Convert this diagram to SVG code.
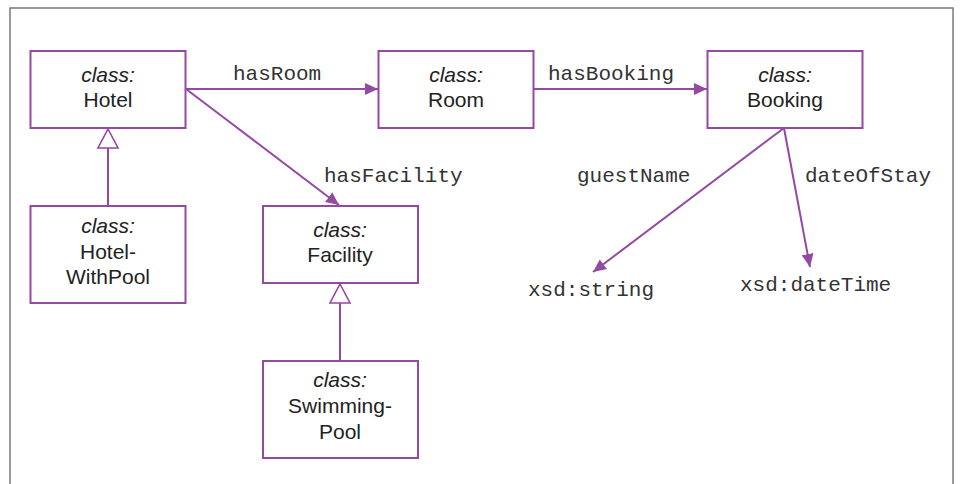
<svg xmlns="http://www.w3.org/2000/svg" width="960" height="484" viewBox="0 0 960 484">
<style>
.box{fill:#fff;stroke:#9449a2;stroke-width:2}
.edge{fill:none;stroke:#9449a2;stroke-width:2}
.gen{fill:#fff;stroke:#9449a2;stroke-width:1.6}
.cls{font-family:"Liberation Sans",Arial,sans-serif;font-size:21px;fill:#222;text-anchor:middle}
.it{font-style:italic}
.mono{font-family:"Liberation Mono","Courier New",monospace;font-size:21px;fill:#333}
</style>
<defs>
<marker id="arr" markerUnits="userSpaceOnUse" markerWidth="14" markerHeight="14" viewBox="0 0 14 14" refX="13" refY="7" orient="auto">
<path d="M0,1 L13,7 L0,13 Z" fill="#9449a2"/>
</marker>
</defs>
<rect x="10" y="8" width="943" height="490" fill="none" stroke="#7a7a7a" stroke-width="1.5"/>
<g id="connectors">
<line class="edge" x1="186" y1="89" x2="378" y2="89" marker-end="url(#arr)"/>
<line class="edge" x1="534" y1="89" x2="707" y2="89" marker-end="url(#arr)"/>
<line class="edge" x1="186" y1="89" x2="339" y2="205" marker-end="url(#arr)"/>
<line class="edge" x1="784" y1="128" x2="593" y2="272" marker-end="url(#arr)"/>
<line class="edge" x1="784" y1="128" x2="810" y2="267" marker-end="url(#arr)"/>
<line class="edge" x1="108" y1="148" x2="108" y2="206"/>
<path class="gen" d="M108,129 L118,148 L98,148 Z"/>
<line class="edge" x1="340" y1="303" x2="340" y2="361"/>
<path class="gen" d="M340,284 L350,303 L330,303 Z"/>
<text class="mono" x="233" y="80">hasRoom</text>
<text class="mono" x="548" y="80">hasBooking</text>
<text class="mono" x="324" y="182">hasFacility</text>
<text class="mono" x="577" y="182">guestName</text>
<text class="mono" x="805" y="182">dateOfStay</text>
</g>
<g id="hotel">
<rect class="box" x="30.5" y="51" width="155" height="77"/>
<text class="cls it" x="108" y="82">class:</text>
<text class="cls" x="108" y="107">Hotel</text>
</g>
<g id="room">
<rect class="box" x="378.5" y="51" width="155" height="77"/>
<text class="cls it" x="456" y="82">class:</text>
<text class="cls" x="456" y="107">Room</text>
</g>
<g id="booking">
<rect class="box" x="707.5" y="51" width="155" height="77"/>
<text class="cls it" x="785" y="82">class:</text>
<text class="cls" x="785" y="107">Booking</text>
</g>
<g id="hotelwithpool">
<rect class="box" x="30.5" y="206" width="155" height="97"/>
<text class="cls it" x="108" y="233">class:</text>
<text class="cls" x="108" y="259">Hotel-</text>
<text class="cls" x="108" y="284">WithPool</text>
</g>
<g id="facility">
<rect class="box" x="263" y="206" width="155" height="77"/>
<text class="cls it" x="340" y="237">class:</text>
<text class="cls" x="340" y="262">Facility</text>
</g>
<g id="swimmingpool">
<rect class="box" x="263" y="361" width="155" height="97"/>
<text class="cls it" x="340" y="387">class:</text>
<text class="cls" x="340" y="413">Swimming-</text>
<text class="cls" x="340" y="439">Pool</text>
</g>
<g id="xsdstring">
<text class="mono" x="528" y="296">xsd:string</text>
</g>
<g id="xsddatetime">
<text class="mono" x="740" y="291">xsd:dateTime</text>
</g>
</svg>
